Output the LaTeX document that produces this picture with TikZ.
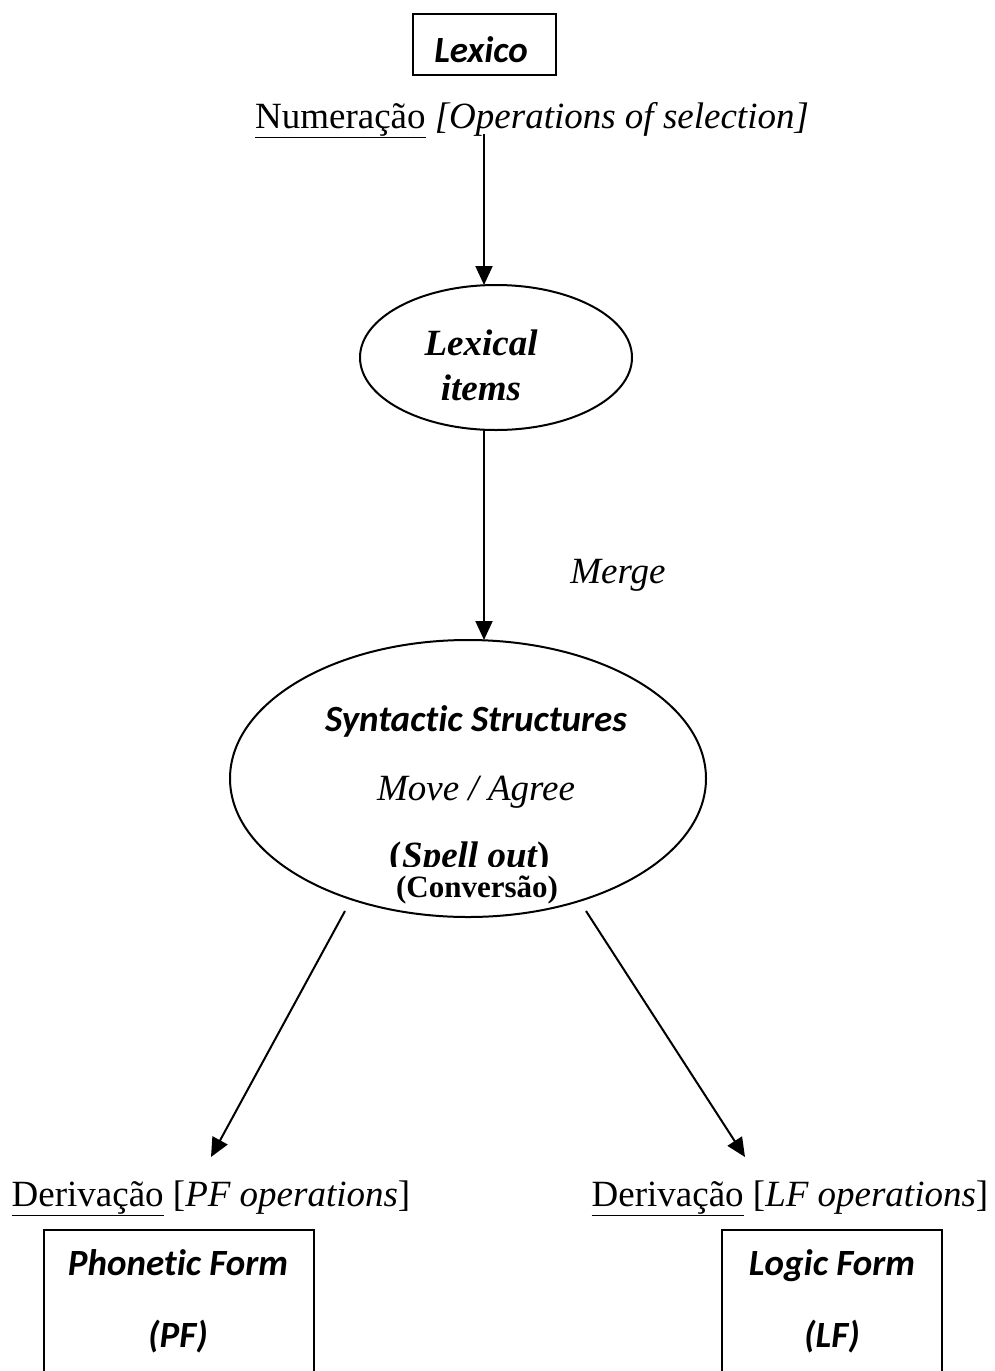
\documentclass[tikz,border=0pt]{standalone}
\usepackage{fontspec}
\setmainfont{Liberation Serif}
\newfontfamily\carl[Ligatures=NoCommon]{Carlito}
\usetikzlibrary{arrows.meta,shapes.geometric}
\newcommand{\fbig}{\fontsize{37}{44}\selectfont}
\newcommand{\fmid}{\fontsize{31}{37}\selectfont}
\tikzset{
  x=1pt,y=-1pt,
  txt/.style={anchor=base,inner sep=0pt,font=\fbig},
  cbox/.style={draw,line width=2.2pt,rectangle,inner sep=0pt},
  oval/.style={draw,line width=2pt,ellipse,inner sep=0pt},
  arr/.style={line width=2pt,-{Triangle[length=19pt,width=17pt]}},
}
\begin{document}
\begin{tikzpicture}
\useasboundingbox (0,0) rectangle (994,1371);
\clip (0,0) rectangle (994,1371);
% top box
\node[cbox,minimum width=143pt,minimum height=61pt] (lexico) at (484.5,44.5) {};
\node[txt,font=\fbig\carl\bfseries\itshape] (lexicot) at (481,62) {Lexico};
\node[txt] (num) at (532,128) {\underline{Numeração} \textit{[Operations of selection]}};
% lexical items
\node[oval,minimum width=272pt,minimum height=145pt] (lex) at (496,357.5) {};
\node[txt,font=\fbig\bfseries\itshape] (lex1) at (481,355) {Lexical};
\node[txt,font=\fbig\bfseries\itshape] (lex2) at (481,400) {items};
\coordinate (a1s) at (484,134);
\coordinate (a1e) at (484,285);
\draw[arr] (a1s) -- (a1e);
\coordinate (a2s) at (484,430);
\coordinate (a2e) at (484,640);
\draw[arr] (a2s) -- (a2e);
\node[txt,font=\fbig\itshape] (merge) at (618,583) {Merge};
% syntactic structures
\node[oval,minimum width=476pt,minimum height=277pt] (syn) at (468,778.5) {};
\node[txt,font=\fbig\carl\bfseries\itshape] (syn1) at (476,731) {Syntactic Structures};
\node[txt,font=\fbig\itshape] (syn2) at (476,800) {Move / Agree};
\begin{scope}
\clip (300,820) rectangle (650,866);
\node[txt,font=\fbig\bfseries] (syn3) at (470,867) {(\textit{Spell out})};
\end{scope}
\node[txt,font=\fmid\bfseries] (conv) at (477,897) {(Conversão)};
\coordinate (a3s) at (345,911);
\coordinate (a3e) at (211,1157);
\draw[arr] (a3s) -- (a3e);
\coordinate (a4s) at (586,911);
\coordinate (a4e) at (745,1157);
\draw[arr] (a4s) -- (a4e);
% bottom
\node[txt] (derpf) at (211,1206) {\underline{Derivação} [\textit{PF operations}]};
\node[txt] (derlf) at (790,1206) {\underline{Derivação} [\textit{LF operations}]};
\node[cbox,minimum width=270pt,minimum height=170pt] (pf) at (179,1315) {};
\node[cbox,minimum width=220pt,minimum height=170pt] (lf) at (832,1315) {};
\node[txt,font=\fbig\carl\bfseries\itshape] (pf1) at (178,1275) {Phonetic Form};
\node[txt,font=\fbig\carl\bfseries\itshape] (pf2) at (178,1347) {(PF)};
\node[txt,font=\fbig\carl\bfseries\itshape] (lf1) at (832,1275) {Logic Form};
\node[txt,font=\fbig\carl\bfseries\itshape] (lf2) at (832,1347) {(LF)};
\end{tikzpicture}
\end{document}
